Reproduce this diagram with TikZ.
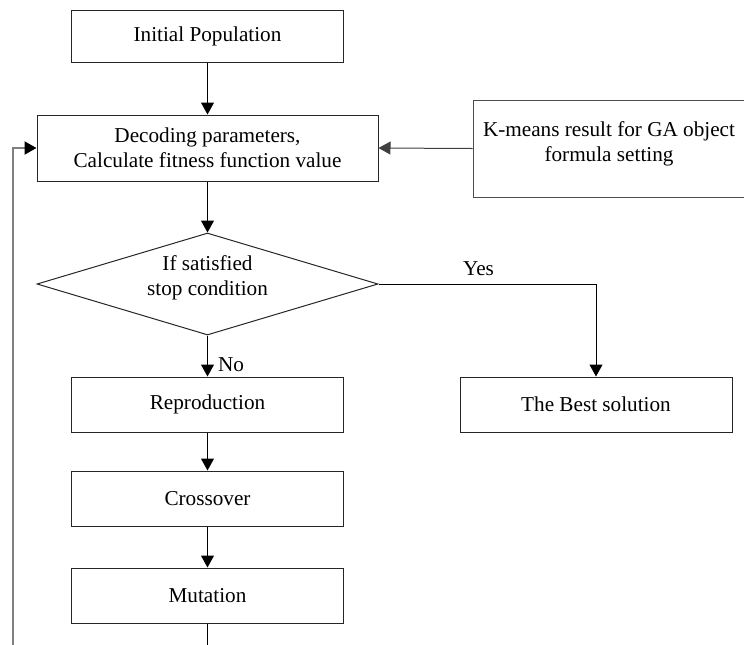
\documentclass[tikz,border=0pt]{standalone}
\usepackage{fontspec}
\setmainfont{Liberation Serif}
\usetikzlibrary{arrows.meta,shapes.geometric}
\tikzset{
  stepbox/.style={draw=black!85, line width=0.5pt, minimum width=136pt,
    minimum height=27.5pt, inner sep=0pt, align=center},
  decision/.style={diamond, draw=black!85, line width=0.5pt, aspect=3.34,
    minimum width=170.5pt, minimum height=51pt, inner sep=0pt, align=center},
  flow/.style={line width=0.5pt, -{Triangle[width=6.5pt,length=6pt]}},
  feedback/.style={draw=gray, line width=1pt,
    -{Triangle[width=6.5pt,length=6pt,color=black]}}
}
\begin{document}
\begin{tikzpicture}[x=0.5pt, y=-0.5pt, font=\fontsize{10.6}{12.6}\selectfont]
  \useasboundingbox (0,0) rectangle (744,644);
  \clip (0,0) rectangle (744,644);
  %--- Boxes
  \node[stepbox, minimum height=26pt] (init) at (207.5,36) {Initial Population};
  \node[stepbox, minimum width=170.5pt, minimum height=33pt] (decode) at (207.5,148)
    {Decoding parameters,\\Calculate fitness function value};
  \node[stepbox, draw=black!70, minimum width=155pt, minimum height=48.5pt] (kmeans) at (628,148.5) {};
  \node[align=center, inner sep=0pt] (kmtext) at (609,144)
    {K-means result for GA object\\formula setting};
  \node[decision] (cond) at (207.5,284) {};
  \node[align=center, inner sep=0pt] (condtext) at (207.5,278) {If satisfied\\stop condition};
  \node[stepbox] (repro) at (207.5,404.5) {Reproduction};
  \node[stepbox] (best) at (596,404.5) {The Best solution};
  \node[stepbox] (cross) at (207.5,498.5) {Crossover};
  \node[stepbox] (mutate) at (207.5,595.5) {Mutation};
  %--- Arrows
  \draw[flow] (init) -- (decode);
  \draw[flow] (decode) -- (cond);
  \draw[flow] (cond) -- node[pos=0.72, anchor=west, inner sep=0pt, xshift=5pt]{No} (repro);
  \draw[flow] (cond.east) -| node[pos=0.23, above, inner sep=4pt]{Yes} (best.north);
  \draw[flow] (repro) -- (cross);
  \draw[flow] (cross) -- (mutate);
  \draw[flow, draw=black!75] (kmeans.west) -- (decode.east);
  %--- Feedback loop
  \coordinate (loop) at (13,660);
  \draw[line width=0.5pt] (mutate.south) -- (mutate.south |- loop);
  \draw[feedback] (mutate.south |- loop) -- (loop) |- (decode.west);
\end{tikzpicture}
\end{document}
